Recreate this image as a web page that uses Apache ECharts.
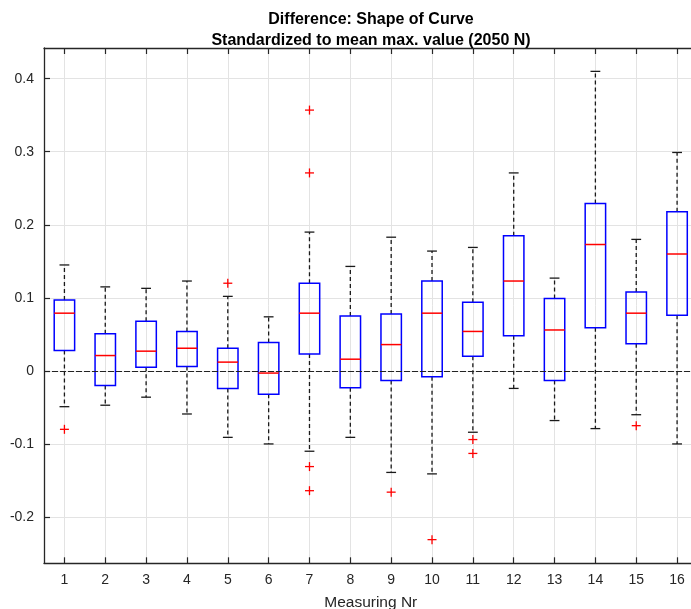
<!DOCTYPE html>
<html><head><meta charset="utf-8">
<script src="https://cdn.jsdelivr.net/npm/echarts@6/dist/echarts.min.js"></script>
<style>html,body{margin:0;padding:0;background:#fff}#c{width:691px;height:609px}</style>
</head><body><div id="c"></div>
<script>
const categories = [1, 2, 3, 4, 5, 6, 7, 8, 9, 10, 11, 12, 13, 14, 15, 16];
const lowerWhisker = [-0.049, -0.047, -0.036, -0.059, -0.091, -0.100, -0.110, -0.091, -0.139, -0.141, -0.084, -0.024, -0.068, -0.079, -0.060, -0.100];
const q1 = [0.028, -0.020, 0.005, 0.006, -0.024, -0.032, 0.023, -0.023, -0.013, -0.008, 0.020, 0.048, -0.013, 0.059, 0.037, 0.076];
const median = [0.079, 0.021, 0.027, 0.031, 0.012, -0.003, 0.079, 0.016, 0.036, 0.079, 0.054, 0.123, 0.056, 0.173, 0.079, 0.160];
const q3 = [0.097, 0.051, 0.068, 0.054, 0.031, 0.039, 0.120, 0.075, 0.078, 0.123, 0.094, 0.185, 0.099, 0.229, 0.108, 0.218];
const upperWhisker = [0.145, 0.115, 0.113, 0.123, 0.102, 0.074, 0.190, 0.143, 0.183, 0.164, 0.169, 0.271, 0.127, 0.410, 0.180, 0.299];
const outlierCat = [1, 5, 7, 7, 7, 7, 9, 10, 11, 11, 15];
const outlierVal = [-0.080, 0.120, 0.357, 0.271, -0.131, -0.164, -0.166, -0.231, -0.094, -0.113, -0.075];
const yTicks = [-0.2, -0.1, 0, 0.1, 0.2, 0.3, 0.4];
const titleText = 'Difference: Shape of Curve\nStandardized to mean max. value (2050 N)';
const xName = 'Measuring Nr';

const FONT = '"Liberation Sans", Arial, Helvetica, sans-serif';
const AX = '#262626';

const boxData = categories.map((c, i) => [c, lowerWhisker[i], q1[i], median[i], q3[i], upperWhisker[i]]);
const outData = outlierCat.map((c, i) => [c, outlierVal[i]]);

function renderBox(params, api) {
  const x = api.value(0);
  const pLow = api.coord([x, api.value(1)]);
  const pQ1 = api.coord([x, api.value(2)]);
  const pMed = api.coord([x, api.value(3)]);
  const pQ3 = api.coord([x, api.value(4)]);
  const pUp = api.coord([x, api.value(5)]);
  const unit = api.size([1, 0])[0];
  const hb = unit * 0.25;
  const hc = unit * 0.12;
  const px = pMed[0];
  const dash = {stroke: '#1a1a1a', lineWidth: 1.3, lineDash: [4, 3]};
  const solid = {stroke: '#1a1a1a', lineWidth: 1.3};
  return {
    type: 'group',
    children: [
      {type: 'line', shape: {x1: px, y1: pQ3[1], x2: px, y2: pUp[1]}, style: dash},
      {type: 'line', shape: {x1: px, y1: pQ1[1], x2: px, y2: pLow[1]}, style: dash},
      {type: 'line', shape: {x1: px - hc, y1: pUp[1], x2: px + hc, y2: pUp[1]}, style: solid},
      {type: 'line', shape: {x1: px - hc, y1: pLow[1], x2: px + hc, y2: pLow[1]}, style: solid},
      {type: 'rect', shape: {x: px - hb, y: pQ3[1], width: 2 * hb, height: pQ1[1] - pQ3[1]}, style: {fill: 'none', stroke: '#0000ff', lineWidth: 1.5}},
      {type: 'line', shape: {x1: px - hb, y1: pMed[1], x2: px + hb, y2: pMed[1]}, style: {stroke: '#ff0000', lineWidth: 1.5}}
    ]
  };
}

function renderOut(params, api) {
  const p = api.coord([api.value(0), api.value(1)]);
  const s = 4.5;
  const st = {stroke: '#ff0000', lineWidth: 1.3};
  return {
    type: 'group',
    children: [
      {type: 'line', shape: {x1: p[0] - s, y1: p[1], x2: p[0] + s, y2: p[1]}, style: st},
      {type: 'line', shape: {x1: p[0], y1: p[1] - s, x2: p[0], y2: p[1] + s}, style: st}
    ]
  };
}

const chart = echarts.init(document.getElementById('c'), null, {renderer: 'canvas'});
const xCommon = {type: 'value', min: 0.5, max: 16.5};
const yCommon = {type: 'value', min: -0.2634, max: 0.442};
chart.setOption({
  animation: false,
  backgroundColor: '#fff',
  title: {
    text: titleText, left: 371, top: 8.5, padding: 0, textAlign: 'center',
    textStyle: {fontSize: 16, fontWeight: 'bold', color: '#000', lineHeight: 21.5, fontFamily: FONT}
  },
  grid: {left: 44, width: 653.5, top: 48, height: 515.3, containLabel: false, outerBoundsMode: 'none'},
  xAxis: [
    Object.assign({}, xCommon, {
      position: 'bottom',
      axisLine: {show: true, onZero: false, lineStyle: {color: AX, width: 1.3}},
      axisTick: {show: true, inside: true, length: 6, customValues: categories, lineStyle: {color: AX, width: 1.2}},
      axisLabel: {customValues: categories, color: AX, fontSize: 14, margin: 10, fontFamily: FONT},
      splitLine: {show: true, lineStyle: {color: '#e3e3e3', width: 1}},
      name: xName, nameLocation: 'middle', nameGap: 31,
      nameTextStyle: {fontSize: 15.5, color: AX, fontFamily: FONT}
    }),
    Object.assign({}, xCommon, {
      position: 'top',
      axisLine: {show: true, onZero: false, lineStyle: {color: AX, width: 1.3}},
      axisTick: {show: true, inside: true, length: 6, customValues: categories, lineStyle: {color: AX, width: 1.2}},
      axisLabel: {show: false},
      splitLine: {show: false}
    })
  ],
  yAxis: [
    Object.assign({}, yCommon, {
      position: 'left',
      axisLine: {show: true, onZero: false, lineStyle: {color: AX, width: 1.3}},
      axisTick: {show: true, inside: true, length: 6, customValues: yTicks, lineStyle: {color: AX, width: 1.2}},
      axisLabel: {customValues: yTicks, color: AX, fontSize: 14, margin: 10, fontFamily: FONT},
      splitLine: {show: true, lineStyle: {color: '#e3e3e3', width: 1}}
    }),
    Object.assign({}, yCommon, {
      position: 'right',
      axisLine: {show: true, onZero: false, lineStyle: {color: AX, width: 1.3}},
      axisTick: {show: true, inside: true, length: 6, customValues: yTicks, lineStyle: {color: AX, width: 1.2}},
      axisLabel: {show: false},
      splitLine: {show: false}
    })
  ],
  series: [
    {
      type: 'custom', name: 'box', xAxisIndex: 0, yAxisIndex: 0,
      data: boxData, renderItem: renderBox, silent: true, clip: false,
      encode: {x: 0, y: [1, 2, 3, 4, 5]},
      markLine: {
        silent: true, symbol: ['none', 'none'], animation: false,
        label: {show: false},
        lineStyle: {color: '#222', type: [6, 2], width: 1.2},
        data: [{yAxis: 0}]
      }
    },
    {
      type: 'custom', name: 'outliers', xAxisIndex: 0, yAxisIndex: 0,
      data: outData, renderItem: renderOut, silent: true,
      encode: {x: 0, y: 1}
    }
  ]
});
</script>
</body></html>
